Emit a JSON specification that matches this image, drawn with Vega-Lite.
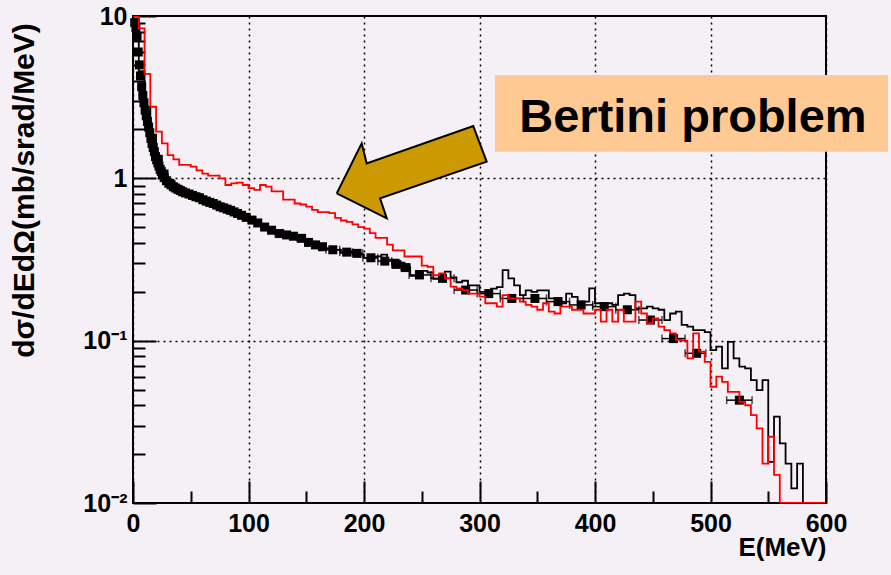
{
  "$schema": "https://vega.github.io/schema/vega-lite/v6.json",
  "width": 693,
  "height": 487,
  "autosize": {"type": "none"},
  "padding": {"left": 133, "top": 16, "right": 65, "bottom": 72},
  "background": "#f5f0f5",
  "config": {
    "view": {"stroke": "#000000", "strokeWidth": 2, "fill": "#f5f0f5"},
    "font": "Liberation Sans",
    "axis": {
      "domain": false,
      "grid": true,
      "gridColor": "#000000",
      "gridDash": [2, 4],
      "gridWidth": 1.5,
      "tickColor": "#000000",
      "tickWidth": 2,
      "labelFont": "Liberation Sans",
      "labelFontWeight": "bold",
      "labelFontSize": 25,
      "labelColor": "#000000",
      "titleFont": "Liberation Sans",
      "titleFontWeight": "bold",
      "titleColor": "#000000",
      "labelOverlap": false,
      "labelBound": false,
      "labelFlush": false
    }
  },
  "datasets": {
    "cascade": [
      {"E": 0, "v": 9.55}, {"E": 5, "v": 4.57}, {"E": 10, "v": 2.75}, {"E": 15, "v": 1.86},
      {"E": 20, "v": 1.38}, {"E": 25, "v": 1.12}, {"E": 30, "v": 0.977}, {"E": 35, "v": 0.891},
      {"E": 40, "v": 0.851}, {"E": 45, "v": 0.813}, {"E": 50, "v": 0.794}, {"E": 55, "v": 0.759},
      {"E": 60, "v": 0.741}, {"E": 65, "v": 0.708}, {"E": 70, "v": 0.692}, {"E": 75, "v": 0.661},
      {"E": 80, "v": 0.646}, {"E": 85, "v": 0.617}, {"E": 90, "v": 0.603}, {"E": 95, "v": 0.575},
      {"E": 100, "v": 0.562}, {"E": 105, "v": 0.537}, {"E": 110, "v": 0.513}, {"E": 115, "v": 0.501},
      {"E": 120, "v": 0.468}, {"E": 125, "v": 0.468}, {"E": 130, "v": 0.447}, {"E": 135, "v": 0.447},
      {"E": 140, "v": 0.427}, {"E": 145, "v": 0.417}, {"E": 150, "v": 0.398}, {"E": 155, "v": 0.389},
      {"E": 160, "v": 0.38}, {"E": 165, "v": 0.372}, {"E": 170, "v": 0.363}, {"E": 175, "v": 0.363},
      {"E": 180, "v": 0.347}, {"E": 185, "v": 0.355}, {"E": 190, "v": 0.339}, {"E": 195, "v": 0.339},
      {"E": 200, "v": 0.324}, {"E": 205, "v": 0.324}, {"E": 210, "v": 0.331}, {"E": 215, "v": 0.339},
      {"E": 220, "v": 0.316}, {"E": 225, "v": 0.316}, {"E": 230, "v": 0.302}, {"E": 235, "v": 0.282},
      {"E": 240, "v": 0.251}, {"E": 245, "v": 0.269}, {"E": 250, "v": 0.269}, {"E": 255, "v": 0.263},
      {"E": 260, "v": 0.24}, {"E": 265, "v": 0.251}, {"E": 270, "v": 0.266}, {"E": 275, "v": 0.245},
      {"E": 280, "v": 0.229}, {"E": 285, "v": 0.234}, {"E": 290, "v": 0.219}, {"E": 295, "v": 0.219},
      {"E": 300, "v": 0.2}, {"E": 305, "v": 0.2}, {"E": 310, "v": 0.209}, {"E": 315, "v": 0.214},
      {"E": 320, "v": 0.272}, {"E": 325, "v": 0.242}, {"E": 330, "v": 0.219}, {"E": 335, "v": 0.191},
      {"E": 340, "v": 0.204}, {"E": 345, "v": 0.2}, {"E": 350, "v": 0.204}, {"E": 355, "v": 0.204},
      {"E": 360, "v": 0.182}, {"E": 365, "v": 0.182}, {"E": 370, "v": 0.17}, {"E": 375, "v": 0.195},
      {"E": 380, "v": 0.186}, {"E": 385, "v": 0.174}, {"E": 390, "v": 0.174}, {"E": 395, "v": 0.21},
      {"E": 400, "v": 0.17}, {"E": 405, "v": 0.17}, {"E": 410, "v": 0.17}, {"E": 415, "v": 0.166},
      {"E": 420, "v": 0.191}, {"E": 425, "v": 0.195}, {"E": 430, "v": 0.191}, {"E": 435, "v": 0.158},
      {"E": 440, "v": 0.158}, {"E": 445, "v": 0.162}, {"E": 450, "v": 0.158}, {"E": 455, "v": 0.155},
      {"E": 460, "v": 0.134}, {"E": 465, "v": 0.147}, {"E": 470, "v": 0.151}, {"E": 475, "v": 0.125},
      {"E": 480, "v": 0.122}, {"E": 485, "v": 0.116}, {"E": 490, "v": 0.116}, {"E": 495, "v": 0.113},
      {"E": 500, "v": 0.0875}, {"E": 505, "v": 0.0918}, {"E": 510, "v": 0.0675}, {"E": 515, "v": 0.0984},
      {"E": 520, "v": 0.0778}, {"E": 525, "v": 0.0692}, {"E": 530, "v": 0.0675}, {"E": 535, "v": 0.0571},
      {"E": 540, "v": 0.0496}, {"E": 545, "v": 0.0571}, {"E": 550, "v": 0.0179}, {"E": 555, "v": 0.034},
      {"E": 560, "v": 0.0233}, {"E": 565, "v": 0.0175}, {"E": 570, "v": 0.0123}, {"E": 575, "v": 0.0175},
      {"E": 580, "v": 0.01}
    ],
    "bertini": [
      {"E": 0, "v": 10}, {"E": 5, "v": 8.4}, {"E": 10, "v": 4.4}, {"E": 15, "v": 2.76},
      {"E": 20, "v": 1.94}, {"E": 25, "v": 1.64}, {"E": 30, "v": 1.39}, {"E": 35, "v": 1.31},
      {"E": 40, "v": 1.21}, {"E": 45, "v": 1.21}, {"E": 50, "v": 1.18}, {"E": 55, "v": 1.12},
      {"E": 60, "v": 1.07}, {"E": 65, "v": 1.04}, {"E": 70, "v": 1.04}, {"E": 75, "v": 1.0},
      {"E": 80, "v": 0.91}, {"E": 85, "v": 0.93}, {"E": 90, "v": 0.94}, {"E": 95, "v": 0.91},
      {"E": 100, "v": 0.87}, {"E": 105, "v": 0.85}, {"E": 110, "v": 0.91}, {"E": 115, "v": 0.89},
      {"E": 120, "v": 0.83}, {"E": 125, "v": 0.83}, {"E": 130, "v": 0.74}, {"E": 135, "v": 0.74},
      {"E": 140, "v": 0.7}, {"E": 145, "v": 0.69}, {"E": 150, "v": 0.67}, {"E": 155, "v": 0.64},
      {"E": 160, "v": 0.62}, {"E": 165, "v": 0.62}, {"E": 170, "v": 0.61}, {"E": 175, "v": 0.57},
      {"E": 180, "v": 0.55}, {"E": 185, "v": 0.54}, {"E": 190, "v": 0.52}, {"E": 195, "v": 0.5},
      {"E": 200, "v": 0.49}, {"E": 205, "v": 0.46}, {"E": 210, "v": 0.43}, {"E": 215, "v": 0.43},
      {"E": 220, "v": 0.39}, {"E": 225, "v": 0.36}, {"E": 230, "v": 0.36}, {"E": 235, "v": 0.33},
      {"E": 240, "v": 0.33}, {"E": 245, "v": 0.33}, {"E": 250, "v": 0.29}, {"E": 255, "v": 0.285},
      {"E": 260, "v": 0.253}, {"E": 265, "v": 0.26}, {"E": 270, "v": 0.242}, {"E": 275, "v": 0.215},
      {"E": 280, "v": 0.21}, {"E": 285, "v": 0.205}, {"E": 290, "v": 0.195}, {"E": 295, "v": 0.195},
      {"E": 300, "v": 0.187}, {"E": 305, "v": 0.17}, {"E": 310, "v": 0.17}, {"E": 315, "v": 0.162},
      {"E": 320, "v": 0.191}, {"E": 325, "v": 0.182}, {"E": 330, "v": 0.182}, {"E": 335, "v": 0.174},
      {"E": 340, "v": 0.166}, {"E": 345, "v": 0.162}, {"E": 350, "v": 0.155}, {"E": 355, "v": 0.17},
      {"E": 360, "v": 0.151}, {"E": 365, "v": 0.147}, {"E": 370, "v": 0.162}, {"E": 375, "v": 0.162},
      {"E": 380, "v": 0.155}, {"E": 385, "v": 0.155}, {"E": 390, "v": 0.147}, {"E": 395, "v": 0.147},
      {"E": 400, "v": 0.155}, {"E": 405, "v": 0.131}, {"E": 410, "v": 0.155}, {"E": 415, "v": 0.131},
      {"E": 420, "v": 0.155}, {"E": 425, "v": 0.131}, {"E": 430, "v": 0.131}, {"E": 435, "v": 0.174},
      {"E": 440, "v": 0.147}, {"E": 445, "v": 0.128}, {"E": 450, "v": 0.137}, {"E": 455, "v": 0.122},
      {"E": 460, "v": 0.116}, {"E": 465, "v": 0.111}, {"E": 470, "v": 0.101}, {"E": 475, "v": 0.1},
      {"E": 480, "v": 0.0778}, {"E": 485, "v": 0.111}, {"E": 490, "v": 0.0855}, {"E": 495, "v": 0.0741},
      {"E": 500, "v": 0.052}, {"E": 505, "v": 0.06}, {"E": 510, "v": 0.0558}, {"E": 515, "v": 0.0484},
      {"E": 520, "v": 0.0484}, {"E": 525, "v": 0.042}, {"E": 530, "v": 0.04}, {"E": 535, "v": 0.0348},
      {"E": 540, "v": 0.0288}, {"E": 545, "v": 0.0175}, {"E": 550, "v": 0.0256}, {"E": 555, "v": 0.0149},
      {"E": 560, "v": 0.01}, {"E": 600, "v": 0.01}
    ],
    "measured": [
      {"E": 1.5, "lo": 1, "hi": 2, "v": 9.1}, {"E": 2.5, "lo": 2, "hi": 3, "v": 8.5},
      {"E": 3.5, "lo": 3, "hi": 4, "v": 7.4}, {"E": 4.5, "lo": 4, "hi": 5, "v": 6.0},
      {"E": 5.5, "lo": 5, "hi": 6, "v": 5.0}, {"E": 6.5, "lo": 6, "hi": 7, "v": 4.27},
      {"E": 7.5, "lo": 7, "hi": 8, "v": 3.67}, {"E": 8.5, "lo": 8, "hi": 9, "v": 3.24},
      {"E": 9.5, "lo": 9, "hi": 10, "v": 2.92}, {"E": 10.5, "lo": 10, "hi": 11, "v": 2.63},
      {"E": 11.5, "lo": 11, "hi": 12, "v": 2.43}, {"E": 12.5, "lo": 12, "hi": 13, "v": 2.24},
      {"E": 13.5, "lo": 13, "hi": 14, "v": 2.07}, {"E": 14.5, "lo": 14, "hi": 15, "v": 1.91},
      {"E": 15.5, "lo": 15, "hi": 16, "v": 1.76}, {"E": 16.5, "lo": 16, "hi": 17, "v": 1.64},
      {"E": 17.5, "lo": 17, "hi": 18, "v": 1.55}, {"E": 18.5, "lo": 18, "hi": 19, "v": 1.46},
      {"E": 19.5, "lo": 19, "hi": 20, "v": 1.36}, {"E": 20.5, "lo": 20, "hi": 21, "v": 1.3},
      {"E": 21.5, "lo": 21, "hi": 22, "v": 1.245}, {"E": 22.5, "lo": 22, "hi": 23, "v": 1.19},
      {"E": 23.5, "lo": 23, "hi": 24, "v": 1.135}, {"E": 24.5, "lo": 24, "hi": 25, "v": 1.1},
      {"E": 25.5, "lo": 25, "hi": 26, "v": 1.05}, {"E": 27, "lo": 26, "hi": 28, "v": 1.01},
      {"E": 29, "lo": 28, "hi": 30, "v": 0.966}, {"E": 31, "lo": 30, "hi": 32, "v": 0.933},
      {"E": 33, "lo": 32, "hi": 34, "v": 0.912}, {"E": 35, "lo": 34, "hi": 36, "v": 0.887},
      {"E": 37, "lo": 36, "hi": 38, "v": 0.871}, {"E": 39, "lo": 38, "hi": 40, "v": 0.855},
      {"E": 41, "lo": 40, "hi": 42, "v": 0.841}, {"E": 43, "lo": 42, "hi": 44, "v": 0.826},
      {"E": 45.5, "lo": 44, "hi": 47, "v": 0.813}, {"E": 48.5, "lo": 47, "hi": 50, "v": 0.8},
      {"E": 51.5, "lo": 50, "hi": 53, "v": 0.785}, {"E": 54.5, "lo": 53, "hi": 56, "v": 0.77},
      {"E": 57.5, "lo": 56, "hi": 59, "v": 0.759}, {"E": 60.5, "lo": 59, "hi": 62, "v": 0.738},
      {"E": 63.5, "lo": 62, "hi": 65, "v": 0.724}, {"E": 66.5, "lo": 65, "hi": 68, "v": 0.711},
      {"E": 69.5, "lo": 68, "hi": 71, "v": 0.7}, {"E": 72.5, "lo": 71, "hi": 74, "v": 0.684},
      {"E": 75.5, "lo": 74, "hi": 77, "v": 0.668}, {"E": 78.5, "lo": 77, "hi": 80, "v": 0.658},
      {"E": 81.5, "lo": 80, "hi": 83, "v": 0.646}, {"E": 84.5, "lo": 83, "hi": 86, "v": 0.635},
      {"E": 87.5, "lo": 86, "hi": 89, "v": 0.621}, {"E": 90.5, "lo": 89, "hi": 92, "v": 0.608},
      {"E": 94, "lo": 92, "hi": 96, "v": 0.592}, {"E": 98, "lo": 96, "hi": 100, "v": 0.575},
      {"E": 103, "lo": 100, "hi": 106, "v": 0.553}, {"E": 108, "lo": 106, "hi": 111, "v": 0.531},
      {"E": 114, "lo": 111, "hi": 117, "v": 0.501}, {"E": 120, "lo": 117, "hi": 123, "v": 0.479},
      {"E": 127, "lo": 123, "hi": 130, "v": 0.457}, {"E": 133, "lo": 130, "hi": 136, "v": 0.448},
      {"E": 139, "lo": 136, "hi": 142, "v": 0.44}, {"E": 146, "lo": 142, "hi": 149, "v": 0.427},
      {"E": 152, "lo": 149, "hi": 155, "v": 0.403}, {"E": 158, "lo": 155, "hi": 161, "v": 0.389},
      {"E": 164, "lo": 161, "hi": 167, "v": 0.379}, {"E": 173, "lo": 167, "hi": 179, "v": 0.363},
      {"E": 185, "lo": 179, "hi": 190, "v": 0.351}, {"E": 194, "lo": 190, "hi": 199, "v": 0.345},
      {"E": 206, "lo": 199, "hi": 212, "v": 0.324}, {"E": 218, "lo": 212, "hi": 224, "v": 0.309},
      {"E": 228, "lo": 224, "hi": 232, "v": 0.295}, {"E": 236, "lo": 232, "hi": 240, "v": 0.282},
      {"E": 248, "lo": 239, "hi": 258, "v": 0.254}, {"E": 268, "lo": 258, "hi": 278, "v": 0.242},
      {"E": 288, "lo": 278, "hi": 298, "v": 0.205}, {"E": 308, "lo": 298, "hi": 318, "v": 0.195},
      {"E": 328, "lo": 318, "hi": 338, "v": 0.182}, {"E": 348, "lo": 338, "hi": 358, "v": 0.182},
      {"E": 368, "lo": 358, "hi": 378, "v": 0.174}, {"E": 388, "lo": 378, "hi": 398, "v": 0.166},
      {"E": 408, "lo": 398, "hi": 418, "v": 0.162}, {"E": 428, "lo": 418, "hi": 438, "v": 0.155},
      {"E": 448, "lo": 438, "hi": 458, "v": 0.134}, {"E": 468, "lo": 458, "hi": 478, "v": 0.103},
      {"E": 488, "lo": 478, "hi": 496, "v": 0.0836}, {"E": 525, "lo": 514, "hi": 536, "v": 0.043}
    ],
    "arrow": [
      {"k": 0, "E": 176.4, "v": 0.808},
      {"k": 1, "E": 198.0, "v": 1.643},
      {"k": 2, "E": 202.3, "v": 1.237},
      {"k": 3, "E": 294.6, "v": 2.1},
      {"k": 4, "E": 306.2, "v": 1.266},
      {"k": 5, "E": 213.9, "v": 0.753},
      {"k": 6, "E": 219.7, "v": 0.567},
      {"k": 7, "E": 176.4, "v": 0.808}
    ]
  },
  "layer": [
    {
      "data": {"name": "cascade"},
      "mark": {"type": "line", "interpolate": "step-after", "color": "#000000", "strokeWidth": 1.8, "clip": true},
      "encoding": {
        "x": {
          "field": "E",
          "type": "quantitative",
          "scale": {"domain": [0, 600], "nice": false, "zero": false},
          "axis": {
            "values": [0, 50, 100, 150, 200, 250, 300, 350, 400, 450, 500, 550, 600],
            "labelExpr": "datum.value % 100 === 0 ? datum.label : ''",
            "tickSize": {"condition": {"test": "datum.value % 100 === 0", "value": -22}, "value": -12},
            "gridOpacity": {"condition": {"test": "datum.value % 100 === 0", "value": 1}, "value": 0},
            "labelPadding": 30,
            "title": "E(MeV)",
            "titleFontSize": 26,
            "titleAnchor": "end",
            "titlePadding": -12
          }
        },
        "y": {
          "field": "v",
          "type": "quantitative",
          "scale": {"type": "log", "domain": [0.01, 10], "nice": false},
          "axis": {
            "values": [0.01, 0.02, 0.03, 0.04, 0.05, 0.06, 0.07, 0.08, 0.09, 0.1, 0.2, 0.3, 0.4, 0.5, 0.6, 0.7, 0.8, 0.9, 1, 2, 3, 4, 5, 6, 7, 8, 9, 10],
            "labelExpr": "datum.value === 10 ? '10' : datum.value === 1 ? '1' : datum.value === 0.1 ? '10⁻¹' : datum.value === 0.01 ? '10⁻²' : ''",
            "tickSize": {"condition": {"test": "datum.value === 0.01 || datum.value === 0.1 || datum.value === 1 || datum.value === 10", "value": -23}, "value": -12},
            "gridOpacity": {"condition": {"test": "datum.value === 0.1 || datum.value === 1", "value": 1}, "value": 0},
            "labelPadding": 29,
            "title": "dσ/dEdΩ(mb/srad/MeV)",
            "titleFontSize": 30,
            "titleAnchor": "middle",
            "titleAlign": "center",
            "titleY": 174,
            "titlePadding": 43
          }
        }
      }
    },
    {
      "data": {"name": "measured"},
      "mark": {"type": "rule", "color": "#000000", "strokeWidth": 1.5},
      "encoding": {
        "x": {"field": "lo", "type": "quantitative"},
        "x2": {"field": "hi"},
        "y": {"field": "v", "type": "quantitative"}
      }
    },
    {
      "data": {"name": "measured"},
      "mark": {"type": "tick", "orient": "vertical", "color": "#000000", "size": 8, "thickness": 1.5},
      "encoding": {
        "x": {"field": "lo", "type": "quantitative"},
        "y": {"field": "v", "type": "quantitative"}
      }
    },
    {
      "data": {"name": "measured"},
      "mark": {"type": "tick", "orient": "vertical", "color": "#000000", "size": 8, "thickness": 1.5},
      "encoding": {
        "x": {"field": "hi", "type": "quantitative"},
        "y": {"field": "v", "type": "quantitative"}
      }
    },
    {
      "data": {"name": "measured"},
      "mark": {"type": "point", "shape": "square", "filled": true, "color": "#000000", "opacity": 1, "size": 81},
      "encoding": {
        "x": {"field": "E", "type": "quantitative"},
        "y": {"field": "v", "type": "quantitative"}
      }
    },
    {
      "data": {"name": "bertini"},
      "mark": {"type": "line", "interpolate": "step-after", "color": "#ff0000", "strokeWidth": 1.8, "clip": true},
      "encoding": {
        "x": {"field": "E", "type": "quantitative"},
        "y": {"field": "v", "type": "quantitative"}
      }
    },
    {
      "data": {"name": "arrow"},
      "mark": {"type": "line", "fill": "#cc9900", "stroke": "#000000", "strokeWidth": 2, "strokeJoin": "miter", "clip": false},
      "encoding": {
        "x": {"field": "E", "type": "quantitative"},
        "y": {"field": "v", "type": "quantitative"},
        "order": {"field": "k", "type": "quantitative"}
      }
    },
    {
      "data": {"values": [{}]},
      "mark": {"type": "rect", "fill": "#ffc994", "clip": false},
      "encoding": {
        "x": {"datum": 313.4, "type": "quantitative"},
        "x2": {"datum": 653.7},
        "y": {"datum": 4.33, "type": "quantitative"},
        "y2": {"datum": 1.458}
      }
    },
    {
      "data": {"values": [{}]},
      "mark": {"type": "text", "text": "Bertini problem", "font": "Liberation Sans", "fontWeight": "bold", "fontSize": 47, "color": "#000000", "align": "center", "baseline": "alphabetic", "clip": false},
      "encoding": {
        "x": {"datum": 484.8, "type": "quantitative"},
        "y": {"datum": 1.937, "type": "quantitative"}
      }
    }
  ]
}
